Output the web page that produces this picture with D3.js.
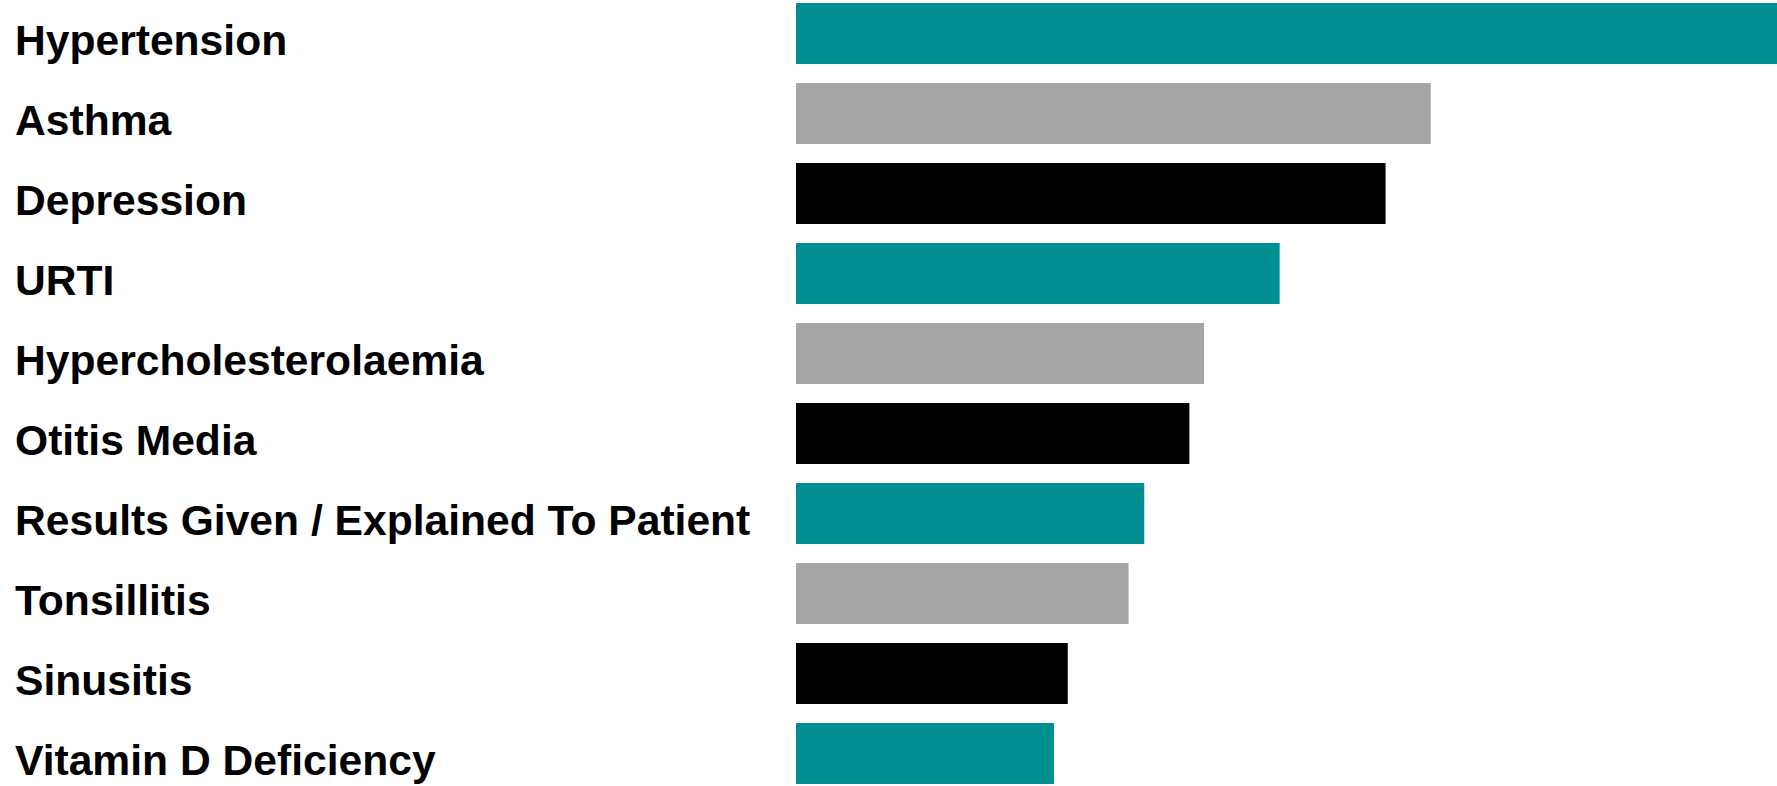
<!DOCTYPE html>
<html>
<head>
<meta charset="utf-8">
<script src="https://cdn.jsdelivr.net/npm/d3@7"></script>
<style>
  html, body { margin: 0; padding: 0; background: #fff; }
  svg { display: block; }
  .label { font-family: "Liberation Sans", Arial, sans-serif; font-weight: bold; font-size: 42.6px; fill: #000; }
</style>
</head>
<body>
<svg id="chart"></svg>
<script>
// Top diagnoses, relative frequency (largest = 1000)
const categories = [
  "Hypertension",
  "Asthma",
  "Depression",
  "URTI",
  "Hypercholesterolaemia",
  "Otitis Media",
  "Results Given / Explained To Patient",
  "Tonsillitis",
  "Sinusitis",
  "Vitamin D Deficiency"
];
const values = [1000, 647, 601, 493, 416, 401, 355, 339, 277, 263];
const palette = ["#008f91", "#a6a6a6", "#000000"];

const width = 1777, height = 786;
const svg = d3.select("#chart").attr("width", width).attr("height", height);

const x = d3.scaleLinear().domain([0, d3.max(values)]).range([796, 1777]);
const y = d3.scaleBand()
  .domain(categories)
  .range([-6.5, 793.5])
  .paddingInner(0.2375)
  .paddingOuter(0.11875);

const rows = categories.map((c, i) => ({ name: c, value: values[i], i }));

svg.append("g")
  .selectAll("rect")
  .data(rows)
  .join("rect")
  .attr("x", x(0))
  .attr("y", d => y(d.name))
  .attr("width", d => x(d.value) - x(0))
  .attr("height", y.bandwidth())
  .attr("fill", d => palette[d.i % 3]);

svg.append("g")
  .selectAll("text")
  .data(rows)
  .join("text")
  .attr("class", "label")
  .attr("x", 15)
  .attr("y", d => y(d.name) + y.bandwidth() / 2 + 21)
  .text(d => d.name);
</script>
</body>
</html>
